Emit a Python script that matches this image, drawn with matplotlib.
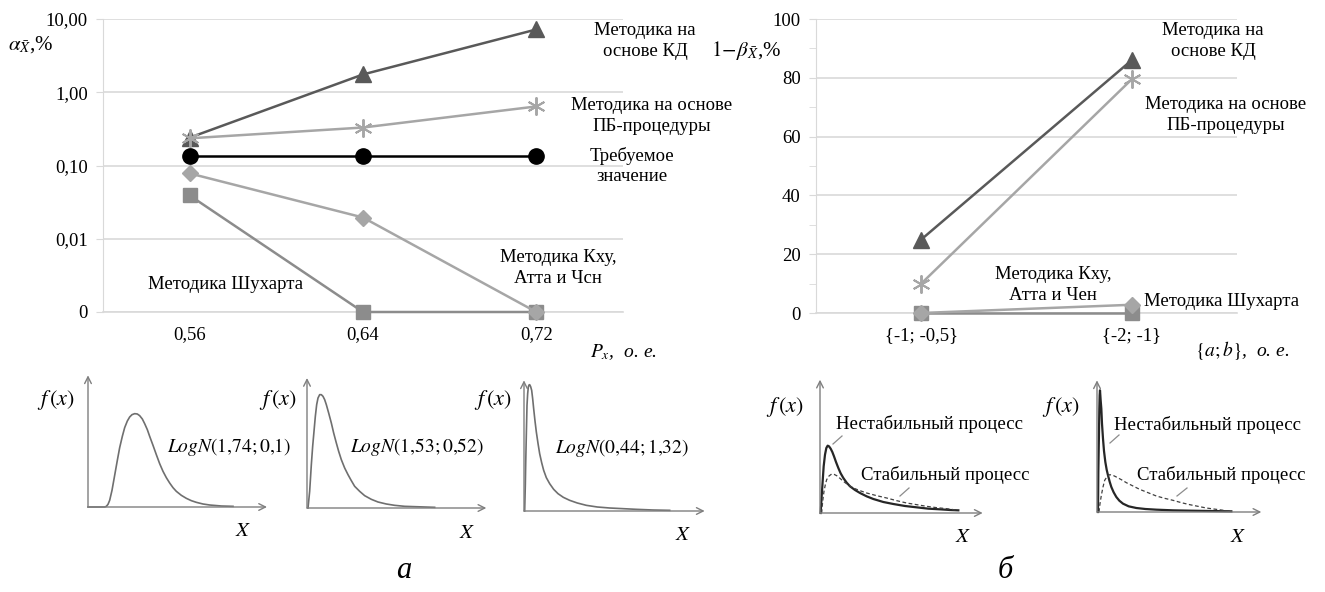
import matplotlib
matplotlib.use('Agg')
import matplotlib.pyplot as plt
from matplotlib.lines import Line2D
from matplotlib.ticker import FixedLocator, NullLocator, MultipleLocator

plt.rcParams['font.family'] = ['Liberation Serif', 'DejaVu Serif']
plt.rcParams['mathtext.fontset'] = 'stix'

# ---- data: panel a (log scale, "0" shown at 0.001)
p_x = ['0,56', '0,64', '0,72']
alpha_kd = [0.24, 1.75, 7.2]
alpha_pb = [0.235, 0.33, 0.64]
alpha_req = [0.136, 0.136, 0.136]
alpha_kxy = [0.078, 0.0195, 0.001]
alpha_shew = [0.039, 0.001, 0.001]
alpha_ticks = [10, 1, 0.1, 0.01, 0.001]
alpha_labels = ['10,00', '1,00', '0,10', '0,01', '0']

# ---- data: panel b
ab = ['{-1; -0,5}', '{-2; -1}']
power_kd = [25, 86]
power_pb = [10, 79.5]
power_kxy = [0, 2.8]
power_shew = [0, 0]

# ---- sketched densities (relative units)
a1_x = [0, 50, 55, 60, 65, 72, 80, 88, 95, 103, 110, 118, 125, 132, 140, 148, 155, 163, 170, 178,
        185, 195, 205, 215, 225, 235, 245, 255, 265, 280, 295, 310, 325, 345, 365, 400, 435]
a1_y = [0, 0, 2, 8, 20, 50, 95, 140, 178, 212, 238, 258, 270, 277, 280, 279, 274, 264, 250, 232,
        212, 185, 157, 130, 107, 88, 72, 58, 47, 35, 26, 19, 14, 9, 6, 3, 2]
a2_x = [3, 8, 13, 17, 21, 25, 29, 33, 38, 43, 48, 53, 58, 65, 73, 80, 88, 95, 103, 113, 123, 133,
        143, 158, 173, 193, 213, 238, 263, 293, 323, 383]
a2_y = [0, 50, 130, 185, 230, 275, 310, 330, 340, 340, 335, 325, 310, 285, 255, 225, 195, 170, 145,
        120, 100, 82, 65, 50, 37, 26, 18, 12, 8, 5, 4, 2]
a3_x = [2, 4, 5, 7, 9, 11, 13, 15, 17, 20, 23, 26, 29, 33, 37, 42, 47, 53, 59, 67, 77, 89, 102,
        118, 137, 160, 187, 220, 257, 297, 337, 387, 437]
a3_y = [0, 80, 137, 230, 317, 352, 372, 378, 379, 373, 362, 337, 307, 270, 237, 203, 172, 145, 122,
        100, 82, 65, 52, 41, 32, 24, 17, 12, 9, 7, 5, 3, 2]
b1_unst_x = [2, 5, 8, 11, 15, 19, 23, 27, 32, 37, 42, 48, 55, 62, 70, 80, 90, 105, 120, 140, 160,
             190, 220, 255, 290, 325, 360, 390, 415]
b1_unst_y = [0, 50, 95, 140, 175, 195, 202, 200, 193, 183, 170, 153, 135, 119, 105, 91, 80, 69, 60,
             50, 42, 33, 27, 21, 17, 13, 11, 9, 8]
b1_st_x = [5, 8, 12, 16, 20, 27, 35, 42, 50, 60, 70, 85, 100, 120, 140, 170, 200, 230, 260, 290,
           320, 350, 380, 415]
b1_st_y = [0, 35, 65, 85, 100, 111, 117, 116, 112, 104, 95, 84, 75, 67, 60, 52, 45, 37, 30, 25,
           20, 16, 13, 8]
b2_unst_x = [3, 4, 6, 7, 8, 9, 10, 11, 13, 15, 18, 21, 25, 29, 33, 38, 43, 50, 58, 67, 78, 95,
             118, 145, 178, 228, 278, 340, 403]
b2_unst_y = [0, 120, 240, 310, 350, 365, 350, 335, 310, 265, 220, 183, 150, 127, 110, 91, 75, 59,
             45, 34, 25, 17, 12, 9, 7, 5, 4, 3, 2]
b2_st_x = [6, 9, 13, 18, 23, 30, 38, 48, 58, 73, 88, 108, 128, 153, 178, 203, 228, 253, 278, 303,
           328, 365, 403]
b2_st_y = [0, 25, 50, 75, 95, 106, 112, 110, 105, 97, 88, 78, 68, 58, 48, 41, 35, 28, 22, 17, 12,
           7, 2]

W, H = 1325, 592
fig = plt.figure(figsize=(W / 100, H / 100), dpi=100)


def fx(x):
    return x / W


def fy(y):
    return 1 - y / H


grid_c = '#d9d9d9'
fs = 13.5

# ---------------- panel a main chart
ax1 = fig.add_axes([fx(103), fy(312), 520 / W, 293 / H])
xs = range(len(p_x))
ax1.plot(xs, alpha_shew, color='#8c8c8c', lw=1.8, marker='s', ms=10, zorder=3, clip_on=False)
ax1.plot(xs, alpha_kxy, color='#a6a6a6', lw=1.8, marker='D', ms=8, zorder=4, clip_on=False)
ax1.plot(xs, alpha_req, color='black', lw=1.8, marker='o', ms=11, zorder=5, clip_on=False)
ax1.plot(xs, alpha_kd, color='#595959', lw=1.8, marker='^', ms=12, zorder=6, clip_on=False)
ax1.plot(xs, alpha_pb, color='#a6a6a6', lw=1.8, marker=(6, 2, 0), ms=13, mew=1.4, zorder=7,
         clip_on=False)
ax1.set_yscale('log')
ax1.set_ylim(0.001, 10)
ax1.set_xlim(-0.5, 2.5)
ax1.yaxis.set_major_locator(FixedLocator(alpha_ticks))
ax1.yaxis.set_minor_locator(NullLocator())
ax1.set_yticklabels(alpha_labels)
ax1.set_xticks(list(xs))
ax1.set_xticklabels(p_x)

# ---------------- panel b main chart
ax2 = fig.add_axes([fx(816), fy(313), 421 / W, 294 / H])
xs2 = range(len(ab))
ax2.plot(xs2, power_shew, color='#8c8c8c', lw=1.8, marker='s', ms=10, zorder=3, clip_on=False)
ax2.plot(xs2, power_kxy, color='#a6a6a6', lw=1.8, marker='D', ms=8, zorder=4, clip_on=False)
ax2.plot(xs2, power_kd, color='#595959', lw=1.8, marker='^', ms=12, zorder=6, clip_on=False)
ax2.plot(xs2, power_pb, color='#a6a6a6', lw=1.8, marker=(6, 2, 0), ms=13, mew=1.4, zorder=7,
         clip_on=False)
ax2.set_ylim(0, 100)
ax2.set_xlim(-0.5, 1.5)
ax2.yaxis.set_major_locator(MultipleLocator(20))
ax2.yaxis.set_minor_locator(MultipleLocator(10))
ax2.set_xticks(list(xs2))
ax2.set_xticklabels(ab)

for ax in (ax1, ax2):
    for s in ('top', 'right'):
        ax.spines[s].set_visible(False)
    ax.spines['left'].set_color(grid_c)
    ax.spines['bottom'].set_color(grid_c)
    ax.spines['bottom'].set_linewidth(1.2)
    ax.grid(axis='y', which='major', color=grid_c, lw=1.2)
    ax.set_axisbelow(True)
    ax.tick_params(axis='y', which='both', direction='out', color=grid_c, length=5,
                   labelsize=fs, pad=6)
    ax.tick_params(axis='x', length=0, labelsize=fs, pad=10)

# axis titles
fig.text(fx(8), fy(45), r'$\alpha_{\bar{X}}$,%', fontsize=15, va='center', ha='left')
fig.text(fx(711), fy(50), r'$1\!-\!\beta_{\bar{X}}$,%', fontsize=15, va='center', ha='left')
fig.text(fx(590), fy(352), r'$P_x$,  о. е.', fontsize=14, style='italic', va='center', ha='left')
fig.text(fx(1195), fy(350), r'$\{a;b\}$,  о. е.', fontsize=14, style='italic', va='center',
         ha='left')

# series annotations
notes = [
    (645, 41, 'Методика на\nоснове КД'),
    (652, 116, 'Методика на основе\nПБ-процедуры'),
    (632, 166, 'Требуемое\nзначение'),
    (558, 268, 'Методика Кху,\nАтта и Чсн'),
    (226, 285, 'Методика Шухарта'),
    (1213, 41, 'Методика на\nоснове КД'),
    (1226, 115, 'Методика на основе\nПБ-процедуры'),
    (1053, 285, 'Методика Кху,\nАтта и Чен'),
    (1222, 302, 'Методика Шухарта'),
]
for x, y, t in notes:
    fig.text(fx(x), fy(y), t, fontsize=fs, ha='center', va='center', linespacing=1.3)

# ---------------- sketched densities
mini = [(88, 507, 537, 395), (307, 508, 538, 390), (524, 511, 542, 392),
        (820, 513, 488, 400), (1097, 512, 493, 395)]
curves = [[(a1_x, a1_y, '-')], [(a2_x, a2_y, '-')], [(a3_x, a3_y, '-')],
          [(b1_unst_x, b1_unst_y, '-'), (b1_st_x, b1_st_y, '--')],
          [(b2_unst_x, b2_unst_y, '-'), (b2_st_x, b2_st_y, '--')]]
arrow_c = '#7f7f7f'
for i, ((ox, oy, xl, yh), cs) in enumerate(zip(mini, curves)):
    m = fig.add_axes([fx(ox), fy(oy), xl / 3 / W, yh / 3 / H])
    m.set_xlim(0, xl)
    m.set_ylim(0, yh)
    m.axis('off')
    ap = dict(arrowstyle='->', color=arrow_c, lw=1.0, shrinkA=0, shrinkB=0, mutation_scale=12)
    m.annotate('', xy=(xl, 0), xytext=(0, 0), arrowprops=ap, annotation_clip=False)
    m.annotate('', xy=(0, yh), xytext=(0, 0), arrowprops=ap, annotation_clip=False)
    for cx, cy, ls in cs:
        if i < 3:
            m.plot(cx, cy, color='#6f6f6f', lw=1.2, clip_on=False)
        elif ls == '-':
            m.plot(cx, cy, color='#262626', lw=1.6, clip_on=False)
        else:
            m.plot(cx, cy, color='#404040', lw=0.9, ls=(0, (3, 2)), clip_on=False)

fx_lab = [(56, 400), (278, 400), (493, 400), (785, 407), (1061, 407)]
for x, y in fx_lab:
    fig.text(fx(x), fy(y), r'$f\,(x)$', fontsize=16, ha='center', va='center')
x_lab = [(243, 532), (467, 533), (683, 535), (963, 537), (1238, 537)]
for x, y in x_lab:
    fig.text(fx(x), fy(y), r'$X$', fontsize=15, ha='center', va='center')

logn = [(167, 447, r'$LogN(1{,}74;0{,}1)$'), (350, 447, r'$LogN(1{,}53;0{,}52)$'),
        (555, 448, r'$LogN(0{,}44;1{,}32)$')]
for x, y, t in logn:
    fig.text(fx(x), fy(y), t, fontsize=14, ha='left', va='center')

proc = [(930, 424, 'Нестабильный процесс'), (945, 475, 'Стабильный процесс'),
        (1207, 425, 'Нестабильный процесс'), (1221, 475, 'Стабильный процесс')]
for x, y, t in proc:
    fig.text(fx(x), fy(y), t, fontsize=13.5, ha='center', va='center')

leaders = [((842, 436), (833, 444)), ((909, 488), (900, 496)),
           ((1119, 435), (1110, 443)), ((1187, 488), (1177, 496))]
for (x0, y0), (x1, y1) in leaders:
    fig.add_artist(Line2D([fx(x0), fx(x1)], [fy(y0), fy(y1)], color='#8c8c8c', lw=0.9))

fig.text(fx(404), fy(570), 'а', fontsize=22, style='italic', ha='center', va='center')
fig.text(fx(1005), fy(570), 'б', fontsize=22, style='italic', ha='center', va='center')

fig.savefig('out.png', dpi=100, facecolor='white')
